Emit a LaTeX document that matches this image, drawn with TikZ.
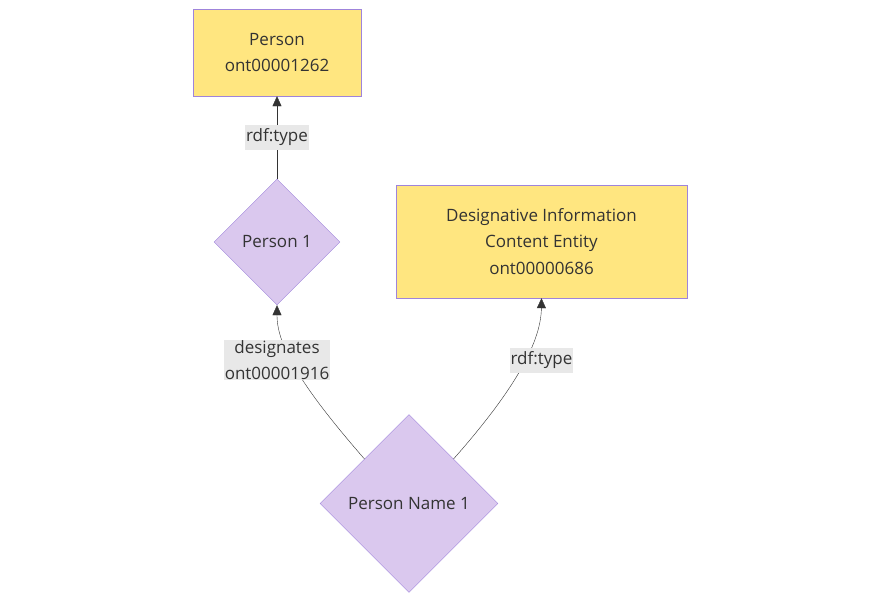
\documentclass[tikz,border=0pt]{standalone}
\usepackage{fontspec}
\setmainfont{Open Sans}
\usetikzlibrary{shapes.geometric,arrows.meta}
\definecolor{boxfill}{HTML}{FFE680}
\definecolor{nodefill}{HTML}{DAC8EE}
\definecolor{nodeline}{HTML}{9F84DB}
\definecolor{lblfill}{HTML}{E8E8E8}
\definecolor{ink}{HTML}{333333}

\begin{document}
\begin{tikzpicture}[x=1pt, y=-1pt,
    font=\fontsize{17}{26.5}\selectfont, text=ink,
    classbox/.style={draw=nodeline, fill=boxfill, align=center, inner sep=0pt},
    individual/.style={diamond, aspect=1, draw=nodeline, fill=nodefill, inner sep=0pt},
    lbl/.style={fill=lblfill, align=center, inner xsep=1pt, inner ysep=0pt, minimum height=25pt},
    link/.style={draw=ink, -{Triangle[length=10pt,width=9pt]}}]
    \useasboundingbox[fill=white] (0,0) rectangle (880,602);
    % classes
    \node[classbox, minimum width=168pt, minimum height=87pt] (person) at (277,52.5)
        {Person\\ont00001262};
    \node[classbox, minimum width=291pt, minimum height=113pt] (dice) at (541.5,241.5)
        {Designative Information\\Content Entity\\ont00000686};
    % individuals
    \node[individual, minimum width=126pt, minimum height=126pt] (person1) at (277,242) {Person 1};
    \node[individual, minimum width=178pt, minimum height=178pt] (pname1) at (409,503.5) {Person Name 1};
    % links
    \draw[link] (person1.north) -- node[lbl] (typeA) {rdf:type} (person.south);
    \draw[link] (pname1.north west) .. controls (300,385) and (277,345) .. (person1.south);
    \draw[link] (pname1.north east) .. controls (510,395) and (541,345) .. (dice.south);
    \node[lbl] (designates) at (277,360) {designates\\ont00001916};
    \node[lbl] (typeB) at (541.5,360) {rdf:type};
\end{tikzpicture}
\end{document}
